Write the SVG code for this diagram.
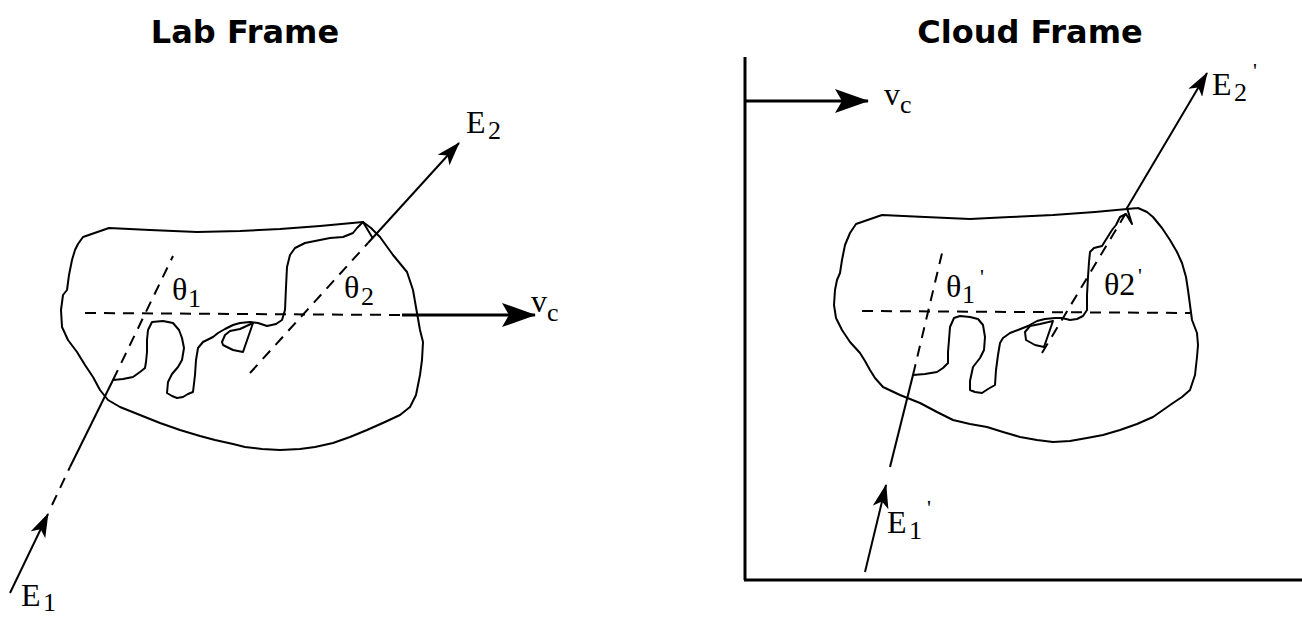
<svg xmlns="http://www.w3.org/2000/svg" width="1302" height="617" viewBox="0 0 1302 617">
  <style>
    .title { font-family: "DejaVu Sans", Verdana, sans-serif; font-weight: bold; font-size: 32px; fill: #000; }
    .lbl { font-family: "Liberation Serif", "Times New Roman", serif; font-size: 32px; fill: #000; }
    .sub { font-size: 26px; }
    .pr { font-size: 22px; }
    .edge { fill: none; stroke: #000; stroke-width: 2; stroke-linejoin: round; stroke-linecap: round; }
    .dash { fill: none; stroke: #000; stroke-width: 2; stroke-dasharray: 11 8; }
    .ray { fill: none; stroke: #000; stroke-width: 2; }
    .thick { fill: none; stroke: #000; stroke-width: 3; }
    .axis { fill: none; stroke: #000; stroke-width: 3; }
  </style>
  <defs>
    <marker id="head" viewBox="0 0 24 16" refX="23" refY="8" markerWidth="24" markerHeight="16" markerUnits="userSpaceOnUse" orient="auto">
      <path d="M0,0 L24,8 L0,16 L6,8 Z" fill="#000"/>
    </marker>
    <marker id="headBig" viewBox="0 0 34 24" refX="33" refY="12" markerWidth="34" markerHeight="24" markerUnits="userSpaceOnUse" orient="auto">
      <path d="M0,0 L34,12 L0,24 L7,12 Z" fill="#000"/>
    </marker>
  </defs>

  <!-- headings -->
  <text class="title" x="245" y="43" text-anchor="middle">Lab Frame</text>
  <text class="title" x="1030" y="43" text-anchor="middle">Cloud Frame</text>

  <!-- ===== lab frame ===== -->
  <g id="lab-cloud">
    <polyline class="edge" points="363,222 371,228 380,237 393,255 407,272 413,290 417,313 420,330 423,342 422,360 420,375 416,395 410,407 400,415 385,422 367,430 350,437 333,443 315,447 300,449 280,450 262,449 245,447 233,444 215,440 200,436 180,430 160,423 140,415 120,407 108,400 100,390 93,377 85,365 77,352 68,340 62,327 61,310 63,295 67,290 69,275 72,260 75,250 78,244 83,237 109,228 150,230 197,232 240,231 280,229 320,226 363,222"/>
    <polyline class="edge" points="363,222 357,228 353,233 343,237 330,238 320,240 305,243 295,248 290,255 287,267 286,287 285,310 282,320 276,324 267,326 258,323 250,322 240,323 233,325 225,329 218,333 213,337 203,342 198,348 196,360 195,375 193,392 188,394 183,397 177,398 172,396 167,393 168,382 172,374 178,367 182,360 184,348 182,338 179,330 173,323 163,321 152,322 148,330 147,340 147,352 146,362 145,368 140,372 133,377 123,379 113,380"/>
    <polyline class="edge" points="253,323 243,352 233,350 223,345 222,342 225,335 230,331 240,329 253,323"/>
    <line class="edge" x1="363" y1="222" x2="372" y2="237"/>
  </g>

  <g id="lab-labels">
    <text class="lbl" x="172" y="300">θ<tspan class="sub" x="188" y="307">1</tspan></text>
    <text class="lbl" x="344" y="298">θ<tspan class="sub" x="361" y="305">2</tspan></text>
    <text class="lbl" x="466" y="133">E<tspan class="sub" x="488" y="139">2</tspan></text>
    <text class="lbl" x="21" y="606">E<tspan class="sub" x="43" y="611">1</tspan></text>
    <text class="lbl" x="531" y="312">v<tspan class="sub" x="547" y="321">c</tspan></text>
  </g>

  <g id="connectors">
    <!-- lab frame rays -->
    <line class="ray" x1="10" y1="593" x2="48" y2="514" marker-end="url(#head)"/>
    <line class="dash" x1="52" y1="505" x2="70" y2="467" stroke-dasharray="4 10 12 8"/>
    <line class="ray" x1="70" y1="467" x2="113" y2="380"/>
    <line class="dash" x1="113" y1="380" x2="173" y2="256"/>
    <line class="dash" x1="250" y1="373" x2="368" y2="243"/>
    <line class="ray" x1="368" y1="243" x2="459" y2="143" marker-end="url(#head)"/>
    <line class="dash" x1="85" y1="313" x2="402" y2="315"/>
    <line class="thick" x1="402" y1="315" x2="535" y2="315" marker-end="url(#headBig)"/>

    <!-- cloud frame rays -->
    <line class="ray" x1="865" y1="572" x2="886" y2="485" marker-end="url(#head)"/>
    <line class="ray" x1="890" y1="467" x2="913" y2="375"/>
    <line class="dash" x1="913" y1="375" x2="943" y2="249"/>
    <line class="dash" x1="1042" y1="353" x2="1126" y2="213"/>
    <line class="ray" x1="1127" y1="208" x2="1207" y2="73" marker-end="url(#head)"/>
    <line class="dash" x1="862" y1="311" x2="1190" y2="313"/>
    <line class="thick" x1="745" y1="101" x2="868" y2="101" marker-end="url(#headBig)"/>
  </g>

  <!-- ===== cloud frame ===== -->
  <g id="cloud-axes">
    <line class="axis" x1="745" y1="57" x2="745" y2="580"/>
    <line class="axis" x1="744" y1="580" x2="1302" y2="580"/>
  </g>

  <g id="rest-cloud">
    <polyline class="edge" points="1138,208 1147,212 1153,217 1162,228 1170,240 1177,252 1182,263 1186,277 1188,290 1190,305 1192,320 1197,333 1198,345 1197,357 1195,375 1190,390 1182,397 1173,403 1153,417 1137,424 1120,430 1103,435 1087,438 1070,441 1053,442 1037,440 1020,437 1003,432 987,427 970,424 953,420 937,412 920,403 900,395 883,387 875,378 870,370 865,361 860,353 850,342 842,330 836,318 834,305 835,290 837,280 840,273 842,260 845,245 850,233 856,224 882,215 925,217 970,219 1010,217 1053,215 1095,212 1138,208"/>
    <polyline class="edge" points="1127,208 1132,224 1126,214 1120,217 1116,225 1112,230 1107,238 1102,246 1094,248 1090,252 1089,262 1088,277 1087,295 1087,310 1083,316 1077,319 1070,320 1062,318 1055,318 1045,319 1037,321 1028,326 1018,330 1010,333 1003,338 1000,343 998,355 996,370 995,385 988,389 982,393 975,392 970,390 970,381 973,367 980,358 984,350 985,337 983,325 978,319 970,317 960,316 954,318 950,327 949,340 948,352 948,363 943,368 937,372 925,374 913,375"/>
    <polyline class="edge" points="1053,321 1040,324 1030,326 1025,332 1026,340 1035,345 1044,347 1053,321"/>
  </g>

  <g id="rest-labels">
    <text class="lbl" x="946" y="297">θ<tspan class="sub" x="962" y="303">1</tspan><tspan class="pr" x="980" y="284">'</tspan></text>
    <text class="lbl" x="1104" y="295">θ2<tspan class="pr" x="1138" y="283">'</tspan></text>
    <text class="lbl" x="887" y="533">E<tspan class="sub" x="909" y="539">1</tspan><tspan class="pr" x="927" y="515">'</tspan></text>
    <text class="lbl" x="1212" y="95">E<tspan class="sub" x="1234" y="101">2</tspan><tspan class="pr" x="1253" y="78">'</tspan></text>
    <text class="lbl" x="884" y="105">v<tspan class="sub" x="900" y="113">c</tspan></text>
  </g>
</svg>
